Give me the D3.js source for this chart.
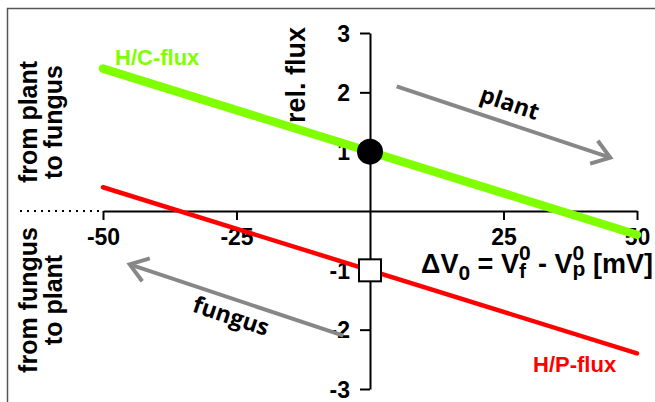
<!DOCTYPE html>
<html><head><meta charset="utf-8">
<script src="https://cdn.jsdelivr.net/npm/d3@7"></script>
<style>html,body{margin:0;padding:0;background:#fff;} svg{display:block}</style>
</head><body>
<svg id="c" width="655" height="402"></svg>
<script>
// ---- data ----
const xTicks = [-50, -25, 25, 50];
const yTicks = [-3, -2, -1, 1, 2, 3];
const deltaV = [-50, 50];
const hcFlux = [2.4, -0.4];
const hpFlux = [0.4, -2.4];
const hcPoint = [0, 1];
const hpPoint = [0, -1];
const plantArrowX = [5, 45], plantArrowY = [2.1, 0.9];
const fungusArrowX = [-5, -45], fungusArrowY = [-2.1, -0.9];
const sideLabelsTop = ["from plant", "to fungus"];
const sideLabelsBottom = ["from fungus", "to plant"];

// ---- setup ----
const svg = d3.select('#c');
const FONT = "'Liberation Sans', Arial, Helvetica, sans-serif";
const FONT2 = "'Open Sans', 'DejaVu Sans', sans-serif";
const x = d3.scaleLinear().domain([-50, 50]).range([103, 637]);
const y = d3.scaleLinear().domain([-3, 3]).range([389, 33]);
const GREEN = '#80ff00', RED = '#ff0000', GRAY = '#878787';

// frame
svg.append('path').attr('d', 'M7.5,402V8.5H655').attr('fill', 'none')
  .attr('stroke', '#555').attr('stroke-width', 1.5);

// axes
const xAxis = svg.append('g').attr('transform', `translate(0,${y(0)})`)
  .call(d3.axisBottom(x).tickValues(xTicks).tickSize(9).tickSizeOuter(0).tickPadding(9)
    .tickFormat(d => String(d)));
const yAxis = svg.append('g').attr('transform', `translate(${x(0)},0)`)
  .call(d3.axisLeft(y).tickValues(yTicks).tickSize(10).tickSizeOuter(0).tickPadding(10)
    .tickFormat(d => String(d)));
[xAxis, yAxis].forEach(a => {
  a.selectAll('path,line').attr('stroke', '#000').attr('stroke-width', 2);
  a.selectAll('text').attr('font-family', FONT).attr('font-weight', 'bold')
    .attr('font-size', 23).attr('fill', '#000');
});
xAxis.selectAll('text').attr('dy', '0.7em');
yAxis.selectAll('text').attr('dy', '0.36em');

// dotted extension of zero line
svg.append('line').attr('x1', 20).attr('x2', x(-50)).attr('y1', y(0)).attr('y2', y(0))
  .attr('stroke', '#000').attr('stroke-width', 2).attr('stroke-dasharray', '2,5');

// flux lines
const line = d3.line().x(d => x(d[0])).y(d => y(d[1]));
svg.append('path').datum(d3.zip(deltaV, hpFlux)).attr('d', line)
  .attr('fill', 'none').attr('stroke', RED).attr('stroke-width', 4.5).attr('stroke-linecap', 'round');
svg.append('path').datum(d3.zip(deltaV, hcFlux)).attr('d', line)
  .attr('fill', 'none').attr('stroke', GREEN).attr('stroke-width', 8.5).attr('stroke-linecap', 'round');

// markers
svg.append('circle').attr('cx', x(hcPoint[0])).attr('cy', y(hcPoint[1])).attr('r', 13).attr('fill', '#000');
svg.append('rect').attr('x', x(hpPoint[0]) - 11).attr('y', y(hpPoint[1]) - 11)
  .attr('width', 22).attr('height', 22).attr('fill', '#fff').attr('stroke', '#000').attr('stroke-width', 2);

// arrows
function arrow(xs, ys, label, side) {
  const x1 = x(xs[0]), y1 = y(ys[0]), x2 = x(xs[1]), y2 = y(ys[1]);
  const ang = Math.atan2(y2 - y1, x2 - x1);
  const L = 21, a = 35 * Math.PI / 180;
  const g = svg.append('g');
  g.append('line').attr('x1', x1).attr('y1', y1).attr('x2', x2).attr('y2', y2)
    .attr('stroke', GRAY).attr('stroke-width', 4);
  const p1 = [x2 - L * Math.cos(ang - a), y2 - L * Math.sin(ang - a)];
  const p2 = [x2 - L * Math.cos(ang + a), y2 - L * Math.sin(ang + a)];
  g.append('path').attr('d', `M${p1}L${x2},${y2}L${p2}`).attr('fill', 'none')
    .attr('stroke', GRAY).attr('stroke-width', 4).attr('stroke-linejoin', 'miter');
  let deg = ang * 180 / Math.PI;
  if (deg > 90 || deg < -90) deg += 180;
  const r = deg * Math.PI / 180;
  const mx = (x1 + x2) / 2, my = (y1 + y2) / 2;
  const nx = Math.sin(r) * side, ny = -Math.cos(r) * side;
  g.append('text').attr('transform', `translate(${mx + nx},${my + ny}) rotate(${deg})`)
    .attr('text-anchor', 'middle').attr('dy', '0.35em')
    .attr('font-family', FONT2).attr('font-weight', 'bold').attr('font-size', 23)
    .attr('fill', '#000').text(label);
}
arrow(plantArrowX, plantArrowY, 'plant', 20);
arrow(fungusArrowX, fungusArrowY, 'fungus', -17);

// series labels
svg.append('text').attr('x', 115).attr('y', 65).attr('font-family', FONT).attr('font-weight', 'bold')
  .attr('font-size', 22).attr('fill', GREEN).text('H/C-flux');
svg.append('text').attr('x', 533).attr('y', 372).attr('font-family', FONT).attr('font-weight', 'bold')
  .attr('font-size', 22).attr('fill', RED).text('H/P-flux');

// y axis title
svg.append('text').attr('transform', `translate(305,75) rotate(-90)`).attr('text-anchor', 'middle')
  .attr('font-family', FONT).attr('font-weight', 'bold').attr('font-size', 27).text('rel. flux');

// side labels
function sideLabel(lines, cy) {
  const t = svg.append('text').attr('transform', `translate(37,${cy}) rotate(-90)`)
    .attr('text-anchor', 'middle').attr('font-family', FONT).attr('font-weight', 'bold').attr('font-size', 25);
  lines.forEach((l, i) => t.append('tspan').attr('x', 0).attr('y', i * 25).text(l));
}
sideLabel(sideLabelsTop, 122);
sideLabel(sideLabelsBottom, 300);

// x axis title with sub/superscripts (one text element, tspans placed by measurement)
function rich(x0, base, parts) {
  const t = svg.append('text').attr('font-family', FONT).attr('font-weight', 'bold').attr('fill', '#000');
  const measure = (s, size) => {
    const m = svg.append('text').attr('font-family', FONT).attr('font-weight', 'bold')
      .attr('font-size', size).text(s);
    const w = m.node().getComputedTextLength();
    m.remove();
    return w;
  };
  let cx = x0;
  parts.forEach(p => {
    const items = p.stack || [p];
    let w = 0;
    items.forEach(s => {
      const size = s.size || 27;
      t.append('tspan').attr('x', cx).attr('y', base + (s.dy || 0)).attr('font-size', size).text(s.t);
      w = Math.max(w, measure(s.t, size));
    });
    cx += w;
  });
}
rich(421, 273, [
  { t: 'ΔV' },
  { t: '0', size: 21, dy: 7 },
  { t: '\u00A0=\u00A0V' },
  { stack: [{ t: '0', size: 21, dy: -13 }, { t: 'f', size: 21, dy: 5 }] },
  { t: '\u00A0-\u00A0V' },
  { stack: [{ t: '0', size: 21, dy: -13 }, { t: 'p', size: 21, dy: 3 }] },
  { t: '\u00A0[mV]' }
]);
</script>
</body></html>
